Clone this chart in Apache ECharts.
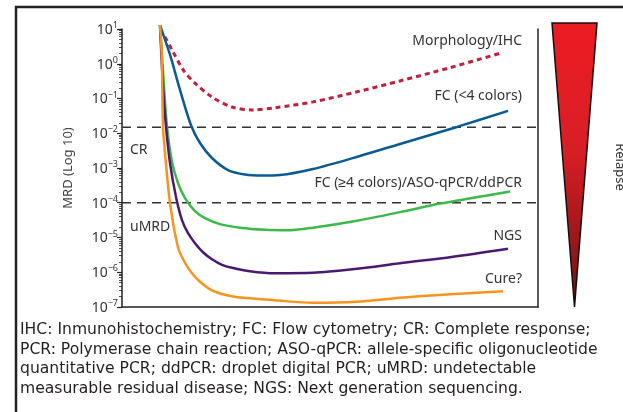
<!DOCTYPE html>
<html><head><meta charset="utf-8">
<script src="https://cdn.jsdelivr.net/npm/echarts@6/dist/echarts.min.js"></script>
<style>html,body{margin:0;padding:0;background:#fff}#c{width:623px;height:412px}</style>
</head><body><div id="c"></div>
<script>
// Hidden time axis (0-100), MRD values on log scale
const morphX = [10.3, 12.0, 14.7, 17.5, 21.6, 26.4, 31.3, 36.8, 45.9, 56.5, 66.8, 78.8, 91.3];
const morphY = [6.0, 2.53, 0.67, 0.28, 0.111, 0.057, 0.047, 0.054, 0.080, 0.156, 0.32, 0.77, 2.07];

const fcLowX = [9.13, 11.54, 13.94, 16.59, 18.75, 21.63, 25.48, 29.57, 33.65, 37.98, 45.91, 57.21, 66.83, 80.53, 92.79];
const fcLowY = [13, 1.82, 0.177, 0.017, 5.25e-3, 1.94e-3, 8.75e-4, 6.49e-4, 6.07e-4, 6.28e-4, 9.35e-4, 2.22e-3, 4.92e-3, 0.0152, 0.044];

const fcHighX = [9.13, 10.10, 10.82, 12.02, 13.46, 15.14, 17.55, 19.95, 23.56, 28.37, 34.38, 40.38, 45.91, 56.49, 66.83, 76.44, 84.86, 93.27];
const fcHighY = [13, 0.217, 0.0152, 1.49e-3, 3.69e-4, 1.36e-4, 5.74e-5, 3.61e-5, 2.42e-5, 1.92e-5, 1.68e-5, 1.63e-5, 1.92e-5, 3.05e-5, 5.37e-5, 9.46e-5, 1.41e-4, 2.10e-4];

const ngsX = [9.13, 9.86, 10.58, 11.54, 12.98, 14.42, 15.87, 17.55, 19.47, 21.63, 24.04, 26.44, 30.77, 36.78, 45.91, 56.49, 66.83, 78.85, 92.79];
const ngsY = [13, 0.217, 0.0152, 1.39e-3, 1.46e-4, 3.16e-5, 1.33e-5, 6.86e-6, 3.77e-6, 2.37e-6, 1.64e-6, 1.35e-6, 1.07e-6, 9.35e-7, 9.66e-7, 1.26e-6, 1.82e-6, 2.71e-6, 4.76e-6];

const cureX = [9.13, 9.54, 9.86, 10.34, 11.54, 13.46, 15.14, 16.83, 18.75, 21.63, 24.76, 27.88, 36.78, 45.91, 56.49, 66.83, 78.85, 91.59];
const cureY = [13, 2.07, 0.0152, 2.70e-3, 9.77e-5, 5.26e-6, 1.88e-6, 9.35e-7, 5.32e-7, 3.02e-7, 2.24e-7, 1.90e-7, 1.56e-7, 1.32e-7, 1.41e-7, 1.84e-7, 2.32e-7, 2.83e-7];

const thresholds = [0.015, 1e-4];           // CR and uMRD cut-offs
const yTickExponents = [1, 0, -1, -2, -3, -4, -5, -6, -7];
const curveLabels = ['Morphology/IHC', 'FC (<4 colors)', 'FC (\u22654 colors)/ASO-qPCR/ddPCR', 'NGS', 'Cure?'];
const captionLines = [
  'IHC: Inmunohistochemistry; FC: Flow cytometry; CR: Complete response;',
  'PCR: Polymerase chain reaction; ASO-qPCR: allele-specific oligonucleotide',
  'quantitative PCR; ddPCR: droplet digital PCR; uMRD: undetectable',
  'measurable residual disease; NGS: Next generation sequencing.'
];

const pairs = (xs, ys) => xs.map((x, i) => [x, ys[i]]);
const FONT = '"Noto Sans", sans-serif';
const CAPFONT = '"DejaVu Sans", sans-serif';

function curve(name, xs, ys, color, dashed) {
  return {
    name, type: 'line', data: pairs(xs, ys), showSymbol: false, symbol: 'none',
    smooth: 0.3, clip: false, silent: true, z: 3,
    lineStyle: { color, width: dashed ? 3 : 2.5, type: dashed ? [5, 4] : 'solid', cap: 'butt' }
  };
}

const series = thresholds.map(v => ({
  name: 'threshold ' + v, type: 'line', data: [[0, v], [100, v]],
  showSymbol: false, symbol: 'none', silent: true, z: 2,
  lineStyle: { color: '#333', width: 1.5, type: [9, 6] }
}));
series.push(
  curve('Morphology/IHC', morphX, morphY, '#c41e3a', true),
  curve('FC (<4 colors)', fcLowX, fcLowY, '#0b5a93', false),
  curve('FC (>=4 colors)', fcHighX, fcHighY, '#3cb94a', false),
  curve('NGS', ngsX, ngsY, '#4a1a72', false),
  curve('Cure?', cureX, cureY, '#f7941d', false)
);

const supStyle = { fontSize: 9, verticalAlign: 'top', lineHeight: 16, fontFamily: FONT, color: '#333' };
const option = {
  animation: false,
  grid: { left: 122, right: 85, top: 29, bottom: 105, containLabel: false },
  xAxis: {
    type: 'value', min: 0, max: 100,
    axisLine: { show: true, lineStyle: { color: '#222', width: 1.5 } },
    axisTick: { show: false }, axisLabel: { show: false }, splitLine: { show: false }
  },
  yAxis: [{
    type: 'log', logBase: 10, min: 1e-7, max: 10,
    name: 'MRD (Log 10)', nameLocation: 'middle', nameGap: 47,
    nameTextStyle: { fontFamily: FONT, fontSize: 13, color: '#444' },
    axisLine: { show: true, lineStyle: { color: '#222', width: 1.5 } },
    axisTick: { show: true, length: 5, lineStyle: { color: '#222', width: 1.2 } },
    minorTick: { show: true, splitNumber: 9, length: 3, lineStyle: { color: '#222', width: 0.8 } },
    splitLine: { show: false },
    axisLabel: {
      margin: 4, color: '#333',
      formatter: v => {
        const e = Math.round(Math.log10(v));
        if (!yTickExponents.includes(e)) return '';
        return '{b|10}{s|' + (e < 0 ? '\u2212' + (-e) : e) + '}';
      },
      rich: { b: { fontSize: 14, fontFamily: FONT, color: '#333', lineHeight: 16, verticalAlign: 'bottom' }, s: supStyle }
    }
  }, {
    type: 'value', position: 'right', min: 0, max: 1,
    axisLine: { show: true, lineStyle: { color: '#222', width: 1.5 } },
    axisTick: { show: false }, axisLabel: { show: false }, splitLine: { show: false }
  }],
  series,
  graphic: [
    { type: 'rect', shape: { x: 16, y: 7, width: 800, height: 600 }, style: { fill: 'none', stroke: '#222', lineWidth: 2.5 }, silent: true },
    {
      type: 'polygon', shape: { points: [[552, 23], [597, 23], [574.5, 307]] },
      style: {
        stroke: '#111', lineWidth: 1.5,
        fill: { type: 'linear', x: 0, y: 0, x2: 0, y2: 1, colorStops: [
          { offset: 0, color: '#ed1c24' }, { offset: 0.45, color: '#d81e25' }, { offset: 1, color: '#6e1214' }] }
      }
    },
    { type: 'text', x: 620, y: 167, rotation: -Math.PI / 2,
      style: { text: 'Relapse', font: '13px ' + FONT, fill: '#333', align: 'center', verticalAlign: 'middle' } },
    { type: 'text', x: 522, y: 41, style: { text: curveLabels[0], font: '14px ' + FONT, fill: '#333', align: 'right', verticalAlign: 'middle' } },
    { type: 'text', x: 522, y: 96, style: { text: curveLabels[1], font: '14px ' + FONT, fill: '#333', align: 'right', verticalAlign: 'middle' } },
    { type: 'text', x: 522, y: 183, style: { text: curveLabels[2], font: '14px ' + FONT, fill: '#333', align: 'right', verticalAlign: 'middle' } },
    { type: 'text', x: 522, y: 236, style: { text: curveLabels[3], font: '14px ' + FONT, fill: '#333', align: 'right', verticalAlign: 'middle' } },
    { type: 'text', x: 522, y: 279, style: { text: curveLabels[4], font: '14px ' + FONT, fill: '#333', align: 'right', verticalAlign: 'middle' } },
    { type: 'text', x: 130, y: 150, style: { text: 'CR', font: '14px ' + FONT, fill: '#333', align: 'left', verticalAlign: 'middle' } },
    { type: 'text', x: 130, y: 227, style: { text: 'uMRD', font: '14px ' + FONT, fill: '#333', align: 'left', verticalAlign: 'middle' } },
    ...captionLines.map((t, i) => ({
      type: 'text', x: 20, y: 330 + i * 19.6,
      style: { text: t, font: '15.6px ' + CAPFONT, fill: '#231f20', align: 'left', verticalAlign: 'middle' }
    }))
  ]
};

const chart = echarts.init(document.getElementById('c'), null, { renderer: 'canvas' });
chart.setOption(option);
</script>
</body></html>
